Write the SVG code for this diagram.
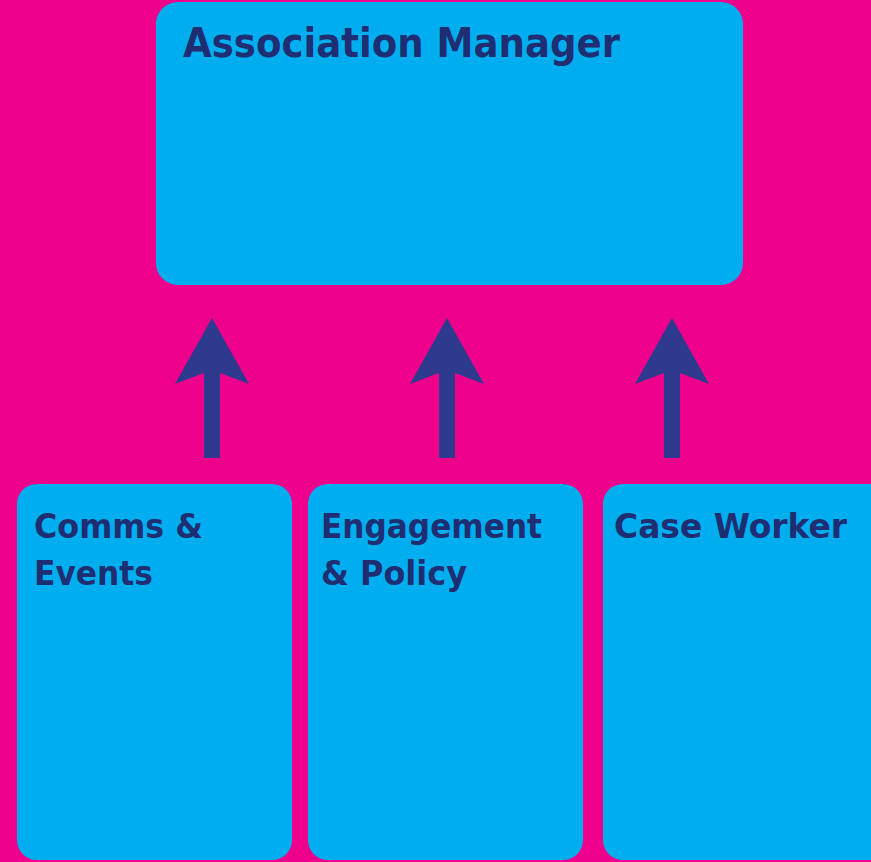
<svg xmlns="http://www.w3.org/2000/svg" width="871" height="862" viewBox="0 0 871 862">
<style>
.box{fill:#00AEEF;}
.lbl{font-family:"DejaVu Sans Condensed","DejaVu Sans",sans-serif;font-weight:bold;fill:#1F2E72;}
.big{font-size:41px;}
.sm{font-size:34px;}
.arr{fill:#2E3A8E;}
</style>
<rect x="0" y="0" width="871" height="862" fill="#EC008C"/>
<g id="association-manager">
<rect class="box" x="156" y="2" width="587" height="283" rx="22"/>
<text class="lbl big" x="183" y="57" textLength="437" lengthAdjust="spacingAndGlyphs">Association Manager</text>
</g>
<g id="comms-events">
<rect class="box" x="17" y="484" width="275" height="376" rx="20"/>
<text class="lbl sm" x="34" y="538" textLength="169" lengthAdjust="spacingAndGlyphs">Comms &amp;</text>
<text class="lbl sm" x="34" y="585" textLength="119" lengthAdjust="spacingAndGlyphs">Events</text>
</g>
<g id="engagement-policy">
<rect class="box" x="308" y="484" width="275" height="376" rx="20"/>
<text class="lbl sm" x="321" y="538" textLength="221" lengthAdjust="spacingAndGlyphs">Engagement</text>
<text class="lbl sm" x="321" y="585" textLength="146" lengthAdjust="spacingAndGlyphs">&amp; Policy</text>
</g>
<g id="case-worker">
<rect class="box" x="603" y="484" width="290" height="376" rx="20"/>
<text class="lbl sm" x="614" y="538" textLength="233" lengthAdjust="spacingAndGlyphs">Case Worker</text>
</g>
<g id="connectors">
<path class="arr" d="M212,318 L249,384 L220,373 L220,458 L204,458 L204,373 L175,384 Z"/>
<path class="arr" d="M447,318 L484,384 L455,373 L455,458 L439,458 L439,373 L410,384 Z"/>
<path class="arr" d="M672,318 L709,384 L680,373 L680,458 L664,458 L664,373 L635,384 Z"/>
</g>
</svg>
